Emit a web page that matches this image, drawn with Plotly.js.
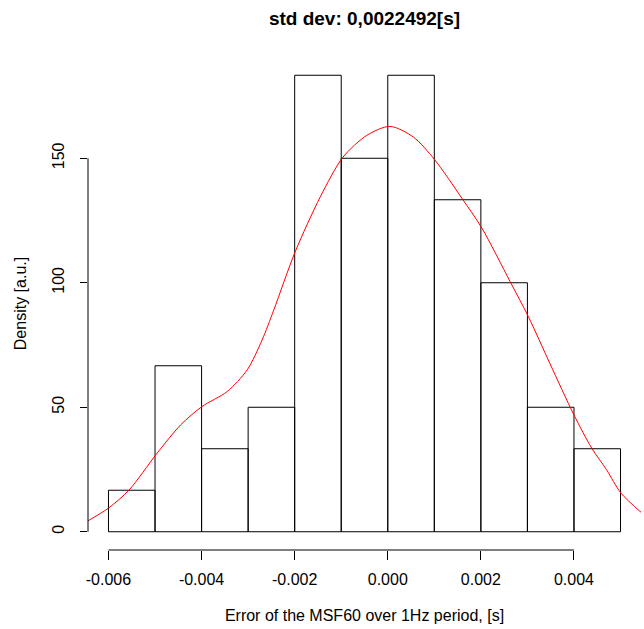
<!DOCTYPE html>
<html>
<head>
<meta charset="utf-8">
<script src="https://cdn.plot.ly/plotly-3.0.1.min.js"></script>
<style>html,body{margin:0;padding:0;background:#fff;}#chart{width:644px;height:629px;}</style>
</head>
<body>
<div id="chart"></div>
<script>
// Histogram bin breaks and density heights
const breaks = [-0.006, -0.005, -0.004, -0.003, -0.002, -0.001, 0.000, 0.001, 0.002, 0.003, 0.004, 0.005];
const density = [16.667, 66.667, 33.333, 50, 183.333, 150, 183.333, 133.333, 100, 50, 33.333];

// Kernel density curve
const kdeX = [-0.00644, -0.0060, -0.00556, -0.00497, -0.00445, -0.00399, -0.00345, -0.00302, -0.0027, -0.00245, -0.00199, -0.00145, -0.00096, -0.00045, 0.00005, 0.00055, 0.00100, 0.00159, 0.00202, 0.00263, 0.00302, 0.00348, 0.0040, 0.00438, 0.0047, 0.00501, 0.00546];
const kdeY = [4.4, 9.5, 16.7, 31.2, 42.9, 50.3, 56.3, 65, 77, 89, 112.4, 134.5, 150.5, 159.2, 162.8, 158.5, 149.6, 134.0, 122.0, 100.4, 86.4, 67.7, 46.9, 33.6, 24.9, 15.5, 7.5];

// Axis ticks
const xTickVals = [-0.006, -0.004, -0.002, 0.000, 0.002, 0.004];
const xTickText = ["-0.006", "-0.004", "-0.002", "0.000", "0.002", "0.004"];
const yTickVals = [0, 50, 100, 150];
const yTickText = ["0", "50", "100", "150"];

const titleText = "std dev: 0,0022492[s]";
const xTitle = "Error of the MSF60 over 1Hz period, [s]";
const yTitle = "Density [a.u.]";

const centers = [], widths = [];
for (let i = 0; i < density.length; i++) {
  centers.push((breaks[i] + breaks[i + 1]) / 2);
  widths.push(breaks[i + 1] - breaks[i]);
}

const xLo = breaks[0], xHi = breaks[breaks.length - 1];
const xPad = (xHi - xLo) * 0.04;
const yMax = Math.max(...density);
const yPad = yMax * 0.04;

const font = "'Liberation Sans', Arial, Helvetica, sans-serif";

const traces = [
  {
    type: 'bar', x: centers, y: density, width: widths,
    marker: {color: 'rgba(0,0,0,0)', line: {color: '#000', width: 1}},
    hoverinfo: 'skip', showlegend: false
  },
  {
    type: 'scatter', mode: 'lines', x: kdeX, y: kdeY,
    line: {color: '#ff0000', width: 1, shape: 'spline', smoothing: 0.8},
    hoverinfo: 'skip', showlegend: false
  }
];

const layout = {
  width: 644, height: 629,
  margin: {l: 88, r: 3, t: 57, b: 79},
  paper_bgcolor: '#fff', plot_bgcolor: '#fff',
  font: {family: font, size: 16, color: '#000'},
  title: {text: '<b>' + titleText + '</b>', font: {family: font, size: 19, color: '#000'},
          x: 0.5, xref: 'paper', xanchor: 'center', y: 1 - 18 / 629, yref: 'container', yanchor: 'middle'},
  bargap: 0,
  xaxis: {
    range: [xLo - xPad, xHi + xPad], showgrid: false, zeroline: false, showline: false,
    ticks: 'outside', ticklen: 9, tickwidth: 1, tickcolor: '#000',
    tickvals: xTickVals, ticktext: xTickText, ticklabelstandoff: 6,
    tickfont: {family: font, size: 16, color: '#000'},
    title: {text: xTitle, font: {family: font, size: 16, color: '#000'}, standoff: 22}
  },
  yaxis: {
    range: [-yPad, yMax + yPad], showgrid: false, zeroline: false, showline: false,
    ticks: 'outside', ticklen: 7, tickwidth: 1, tickcolor: '#000',
    tickvals: yTickVals, ticktext: yTickText, tickangle: -90, ticklabelstandoff: 10,
    tickfont: {family: font, size: 16, color: '#000'},
    title: {text: yTitle, font: {family: font, size: 16, color: '#000'}, standoff: 18}
  },
  shapes: [
    {type: 'line', xref: 'x', yref: 'paper', x0: xTickVals[0], x1: xTickVals[xTickVals.length - 1], y0: 0, y1: 0,
     line: {color: '#000', width: 1}},
    {type: 'line', xref: 'paper', yref: 'y', x0: 0, x1: 0, y0: yTickVals[0], y1: yTickVals[yTickVals.length - 1],
     line: {color: '#000', width: 1}}
  ]
};

Plotly.newPlot('chart', traces, layout, {displayModeBar: false, staticPlot: true});
</script>
</body>
</html>
